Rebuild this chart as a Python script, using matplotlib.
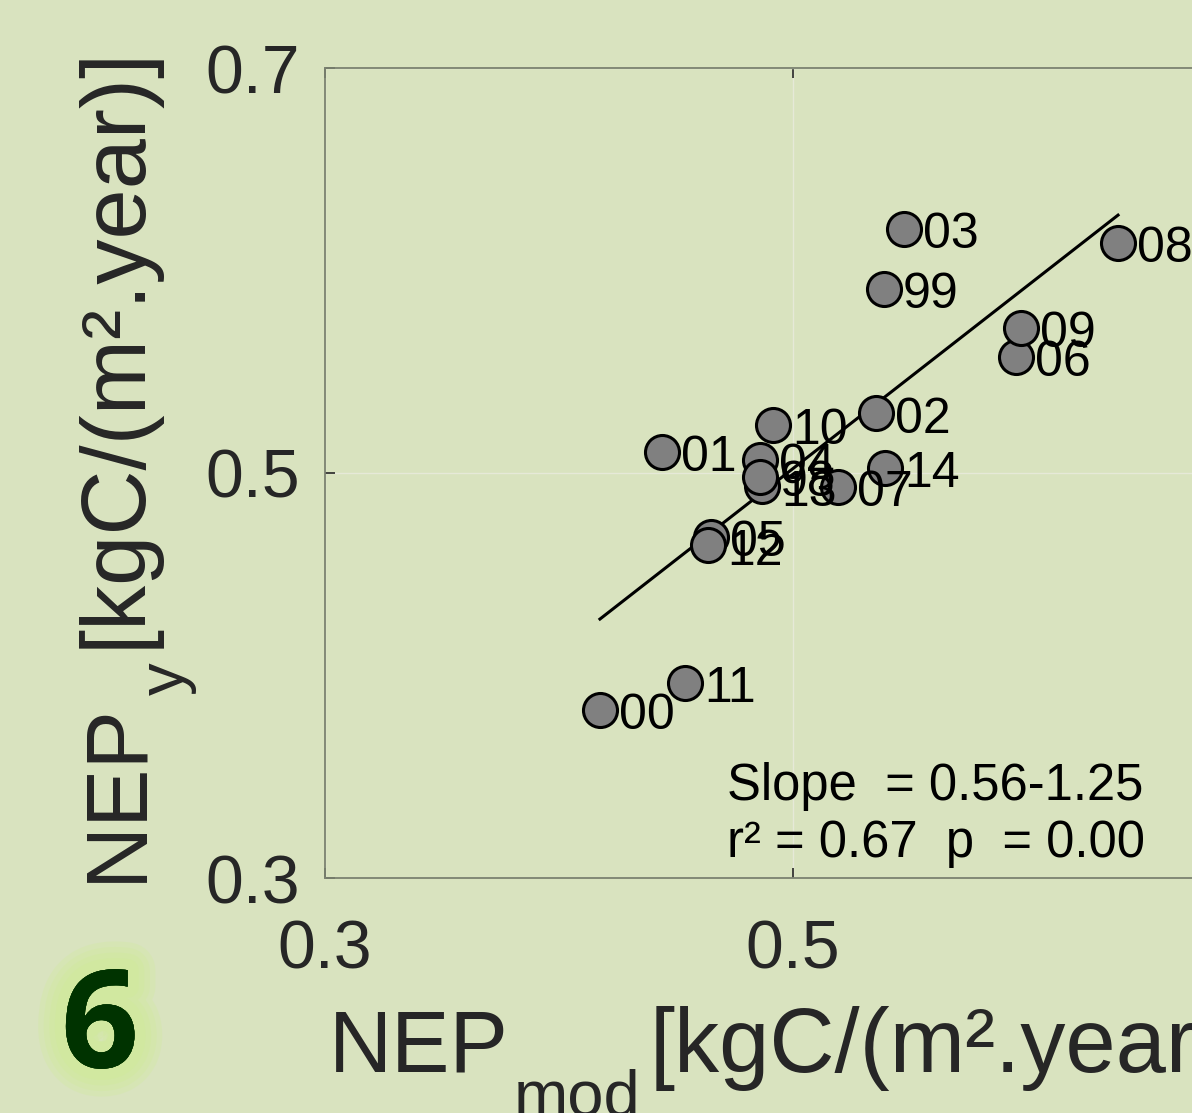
import numpy as np
import matplotlib.pyplot as plt
import matplotlib.patheffects as pe

plt.rcParams['font.family'] = ['Liberation Sans', 'DejaVu Sans']

# data
years = ['99', '00', '01', '02', '03', '04', '05', '06', '07',
         '08', '09', '10', '11', '12', '13', '14', '98']
nep_mod = [0.5389, 0.4175, 0.4440, 0.5355, 0.5474, 0.4860, 0.4650, 0.5953, 0.5192,
           0.6389, 0.5974, 0.4915, 0.4538, 0.4637, 0.4868, 0.5393, 0.4860]
nep_y = [0.5909, 0.3830, 0.5104, 0.5296, 0.6205, 0.5064, 0.4684, 0.5573, 0.4931,
         0.6136, 0.5716, 0.5237, 0.3963, 0.4644, 0.4935, 0.5025, 0.4980]
ticks = [0.3, 0.5, 0.7]
stats_1 = 'Slope  = 0.56-1.25'
stats_2 = 'r² = 0.67  p  = 0.00'

bg = '#d9e3bf'
W, H = 1192, 1113

fig = plt.figure(figsize=(W / 100, H / 100), dpi=100, facecolor=bg)
ax = fig.add_axes([325 / W, 235 / H, 936 / W, 810 / H], facecolor=bg)

x = np.array(nep_mod)
y = np.array(nep_y)

# regression line over the data range
k, b = np.polyfit(x, y, 1)
xl = np.array([x.min(), x.max()])
ax.plot(xl, k * xl + b, color='black', lw=2.2, zorder=2)

ax.scatter(x, y, s=600, c='#808080', edgecolors='black', linewidths=2.2, zorder=3)
for xi, yi, lab in zip(x, y, years):
    ax.annotate(lab, (xi, yi), xytext=(13.7, -14), textcoords='offset points',
                ha='left', va='baseline', fontsize=36, color='black', zorder=4)

ax.text(0.4718, 0.3385, stats_1, fontsize=36.5, ha='left', va='baseline', zorder=4)
ax.text(0.4718, 0.3104, stats_2, fontsize=36.5, ha='left', va='baseline', zorder=4)

ax.set_xlim(0.3, 0.7)
ax.set_ylim(0.3, 0.7)
ax.set_xticks(ticks)
ax.set_yticks(ticks)
ax.set_xticklabels([f'{t:.1f}' for t in ticks])
ax.set_yticklabels([f'{t:.1f}' for t in ticks])
ax.grid(True, color='#e6e9d8', lw=1.0, zorder=0)
ax.set_axisbelow(True)
ax.tick_params(direction='in', length=7, width=1.2, color='#262626',
               labelsize=49, labelcolor='#262626', top=True, right=True)
ax.tick_params(axis='x', pad=29)
ax.tick_params(axis='y', pad=18)
for t in ax.get_yticklabels():
    t.set_verticalalignment('center_baseline')
for s in ax.spines.values():
    s.set_color('#7b8270')
    s.set_linewidth(1.3)


def px(xp, yp):
    return xp / W, 1 - yp / H


renderer = fig.canvas.get_renderer()
lab_kw = dict(fontsize=63, color='#262626', va='baseline', ha='left')
unit_kw = dict(fontsize=65, color='#262626', va='baseline', ha='left')
sub_kw = dict(fontsize=47, color='#262626', va='baseline', ha='left')
unit = '[kgC/(m².year)]'

# x label, built in pieces so the subscript drops low
t1 = fig.text(*px(329, 1072), 'NEP', **lab_kw)
e1 = t1.get_window_extent(renderer)
t2 = fig.text(*px(e1.x1 + 5, 1116), 'mod', **sub_kw)
e2 = t2.get_window_extent(renderer)
fig.text(*px(e2.x1 + 9, 1072), unit, **unit_kw)

# y label (rotated)
t1 = fig.text(*px(140, 882), 'NEP', rotation=90, rotation_mode='anchor', **lab_kw)
e1 = t1.get_window_extent(renderer)
top1 = H - e1.y1
t2 = fig.text(*px(184, top1 - 7), 'y', rotation=90, rotation_mode='anchor', **sub_kw)
e2 = t2.get_window_extent(renderer)
top2 = H - e2.y1
fig.text(*px(140, top2 - 14), unit, rotation=90, rotation_mode='anchor', **unit_kw)

# panel number with glow
glow = [pe.withStroke(linewidth=w, foreground='#cdef8c', alpha=0.2) for w in (40, 32, 24, 16)]
fig.text(*px(100, 1032), '6', fontsize=98, fontweight='bold', family='Open Sans',
         color='#003300', ha='center', va='center', path_effects=glow + [pe.Normal()])

fig.savefig('out.png', dpi=100, facecolor=bg)
